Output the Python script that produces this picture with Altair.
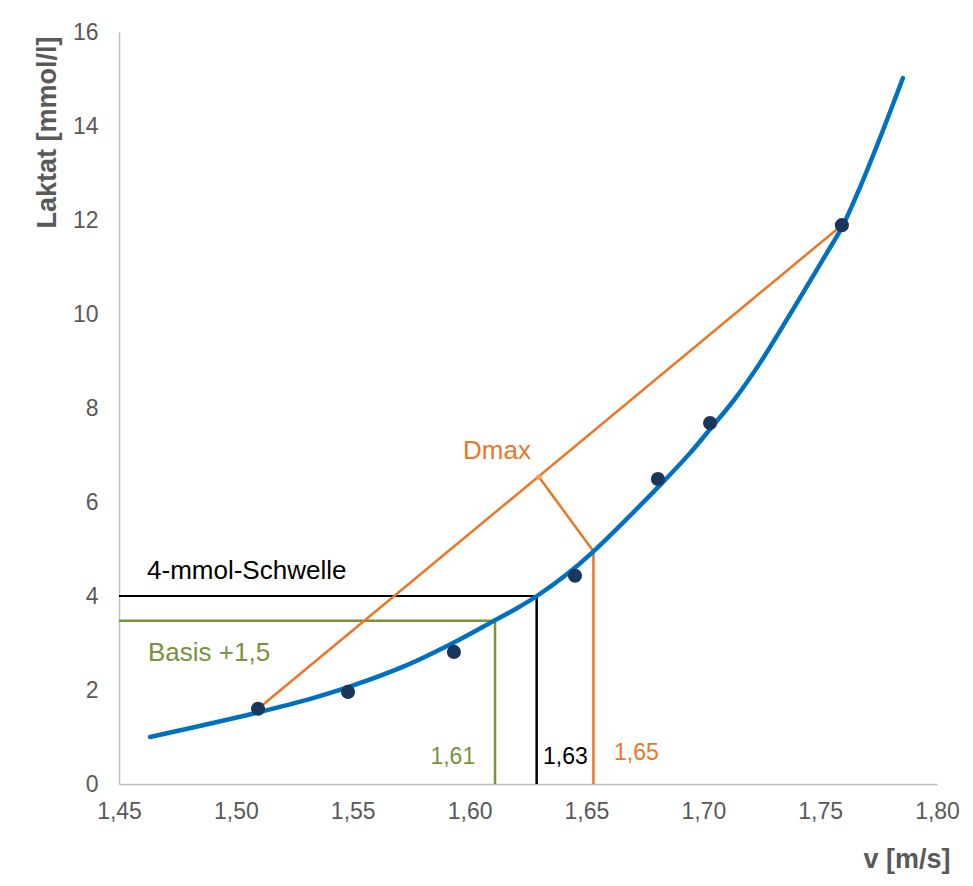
import altair as alt
import pandas as pd

# fitted lactate curve
curve_v = [1.4633, 1.5018, 1.5099, 1.5304, 1.5480, 1.5732, 1.5929, 1.6100, 1.6203,
           1.6288, 1.6408, 1.6528, 1.6815, 1.6943, 1.7029, 1.7136, 1.7243, 1.7384,
           1.7529, 1.7598, 1.7671, 1.7769, 1.7854]
curve_lac = [1.00, 1.43, 1.53, 1.79, 2.06, 2.53, 3.00, 3.46, 3.74,
             4.00, 4.43, 4.94, 6.36, 7.04, 7.55, 8.20, 8.96, 10.10,
             11.30, 11.89, 12.70, 13.91, 15.02]

# measured points
meas_v = [1.5095, 1.5480, 1.5933, 1.6451, 1.6806, 1.7029, 1.7593]
meas_lac = [1.60, 1.96, 2.81, 4.43, 6.49, 7.68, 11.89]

# threshold lines
seg_name = ["4mmol_h", "4mmol_v", "basis_h", "basis_v", "chord", "dmax_perp", "dmax_v"]
seg_x1 = [1.45, 1.6287, 1.45, 1.6109, 1.5095, 1.6297, 1.6530]
seg_y1 = [4.0, 0.0, 3.475, 0.0, 1.60, 6.53, 0.0]
seg_x2 = [1.6287, 1.6287, 1.6109, 1.6109, 1.7593, 1.6530, 1.6530]
seg_y2 = [4.0, 4.0, 3.475, 3.475, 11.89, 4.95, 4.95]
seg_color = ["#000000", "#000000", "#77933C", "#77933C", "#EB7625", "#EB7625", "#EB7625"]
seg_width = [2, 2.5, 2.5, 2.5, 2.5, 2.5, 2.5]

# annotations
lab_text = ["4-mmol-Schwelle", "Basis +1,5", "Dmax", "1,61", "1,63", "1,65"]
lab_x = [1.462, 1.4624, 1.5972, 1.6024, 1.6314, 1.6618]
lab_y = [4.36, 2.62, 6.915, 0.43, 0.43, 0.51]
lab_align = ["left", "left", "left", "right", "left", "left"]
lab_color = ["#000000", "#77933C", "#EB7625", "#77933C", "#000000", "#EB7625"]
lab_size = [26, 26, 26, 23, 23, 23]

x_ticks = [1.45, 1.50, 1.55, 1.60, 1.65, 1.70, 1.75, 1.80]
y_ticks = [0, 2, 4, 6, 8, 10, 12, 14, 16]

FONT = "Liberation Sans"
GRAY = "#595959"

xs = alt.Scale(domain=[1.45, 1.80], nice=False, zero=False)
ys = alt.Scale(domain=[0, 16], nice=False)

curve_df = pd.DataFrame({"v": curve_v, "lac": curve_lac})
meas_df = pd.DataFrame({"v": meas_v, "lac": meas_lac})
seg_df = pd.DataFrame({"name": seg_name, "x1": seg_x1, "y1": seg_y1, "x2": seg_x2,
                       "y2": seg_y2, "color": seg_color, "w": seg_width})
lab_df = pd.DataFrame({"t": lab_text, "x": lab_x, "y": lab_y, "al": lab_align,
                       "c": lab_color, "s": lab_size})

xaxis = alt.Axis(values=x_ticks, labelExpr="replace(format(datum.value, '.2f'), '.', ',')",
                 title="v [m/s]", grid=False, ticks=False, domainColor="#BFBFBF",
                 domainWidth=1.5, labelColor=GRAY, labelFont=FONT, labelFontSize=23,
                 labelPadding=16, titleFont=FONT, titleFontSize=27, titleFontWeight="bold",
                 titleColor=GRAY, titleAlign="right", titleX=831, titleY=83,
                 titleBaseline="alphabetic", labelFlush=False)
yaxis = alt.Axis(values=y_ticks, format="d", title="Laktat [mmol/l]", grid=False,
                 ticks=False, domainColor="#BFBFBF", domainWidth=1.5, labelColor=GRAY,
                 labelFont=FONT, labelFontSize=23, labelPadding=21, titleFont=FONT,
                 titleFontSize=27, titleFontWeight="bold", titleColor=GRAY,
                 titleAngle=-90, titleAlign="center", titleBaseline="middle",
                 titleX=-72, titleY=100)

base_axes = alt.Chart(curve_df).mark_line(opacity=0).encode(
    x=alt.X("v:Q", scale=xs, axis=xaxis),
    y=alt.Y("lac:Q", scale=ys, axis=yaxis),
)

segs = alt.Chart(seg_df).mark_rule().encode(
    x=alt.X("x1:Q", scale=xs), y=alt.Y("y1:Q", scale=ys),
    x2="x2:Q", y2="y2:Q",
    color=alt.Color("color:N", scale=None),
    strokeWidth=alt.StrokeWidth("w:Q", scale=None),
)

curve = alt.Chart(curve_df).mark_line(color="#0070C0", strokeWidth=4.5,
                                      interpolate="catmull-rom", strokeCap="round").encode(
    x=alt.X("v:Q", scale=xs), y=alt.Y("lac:Q", scale=ys))

dots = alt.Chart(meas_df).mark_circle(color="#1B365D", size=200, opacity=1).encode(
    x=alt.X("v:Q", scale=xs), y=alt.Y("lac:Q", scale=ys))

foot = alt.Chart(seg_df[seg_df["name"] == "dmax_perp"]).mark_circle(
    color="#F4A050", size=30, opacity=1).encode(
    x=alt.X("x1:Q", scale=xs), y=alt.Y("y1:Q", scale=ys))

labels = []
for al in ["left", "right"]:
    sub = lab_df[lab_df["al"] == al]
    labels.append(alt.Chart(sub).mark_text(align=al, baseline="alphabetic", font=FONT).encode(
        x=alt.X("x:Q", scale=xs), y=alt.Y("y:Q", scale=ys), text="t:N",
        color=alt.Color("c:N", scale=None),
        size=alt.Size("s:Q", scale=None)))

chart = alt.layer(base_axes, segs, curve, dots, foot, *labels).properties(
    width=818, height=752,
    autosize=alt.AutoSizeParams(type="none"),
    padding={"left": 111, "top": 24, "right": 28, "bottom": 94},
).configure(background="white").configure_view(stroke=None)

chart.save("out.html", embed_options={"renderer": "svg", "actions": False})
